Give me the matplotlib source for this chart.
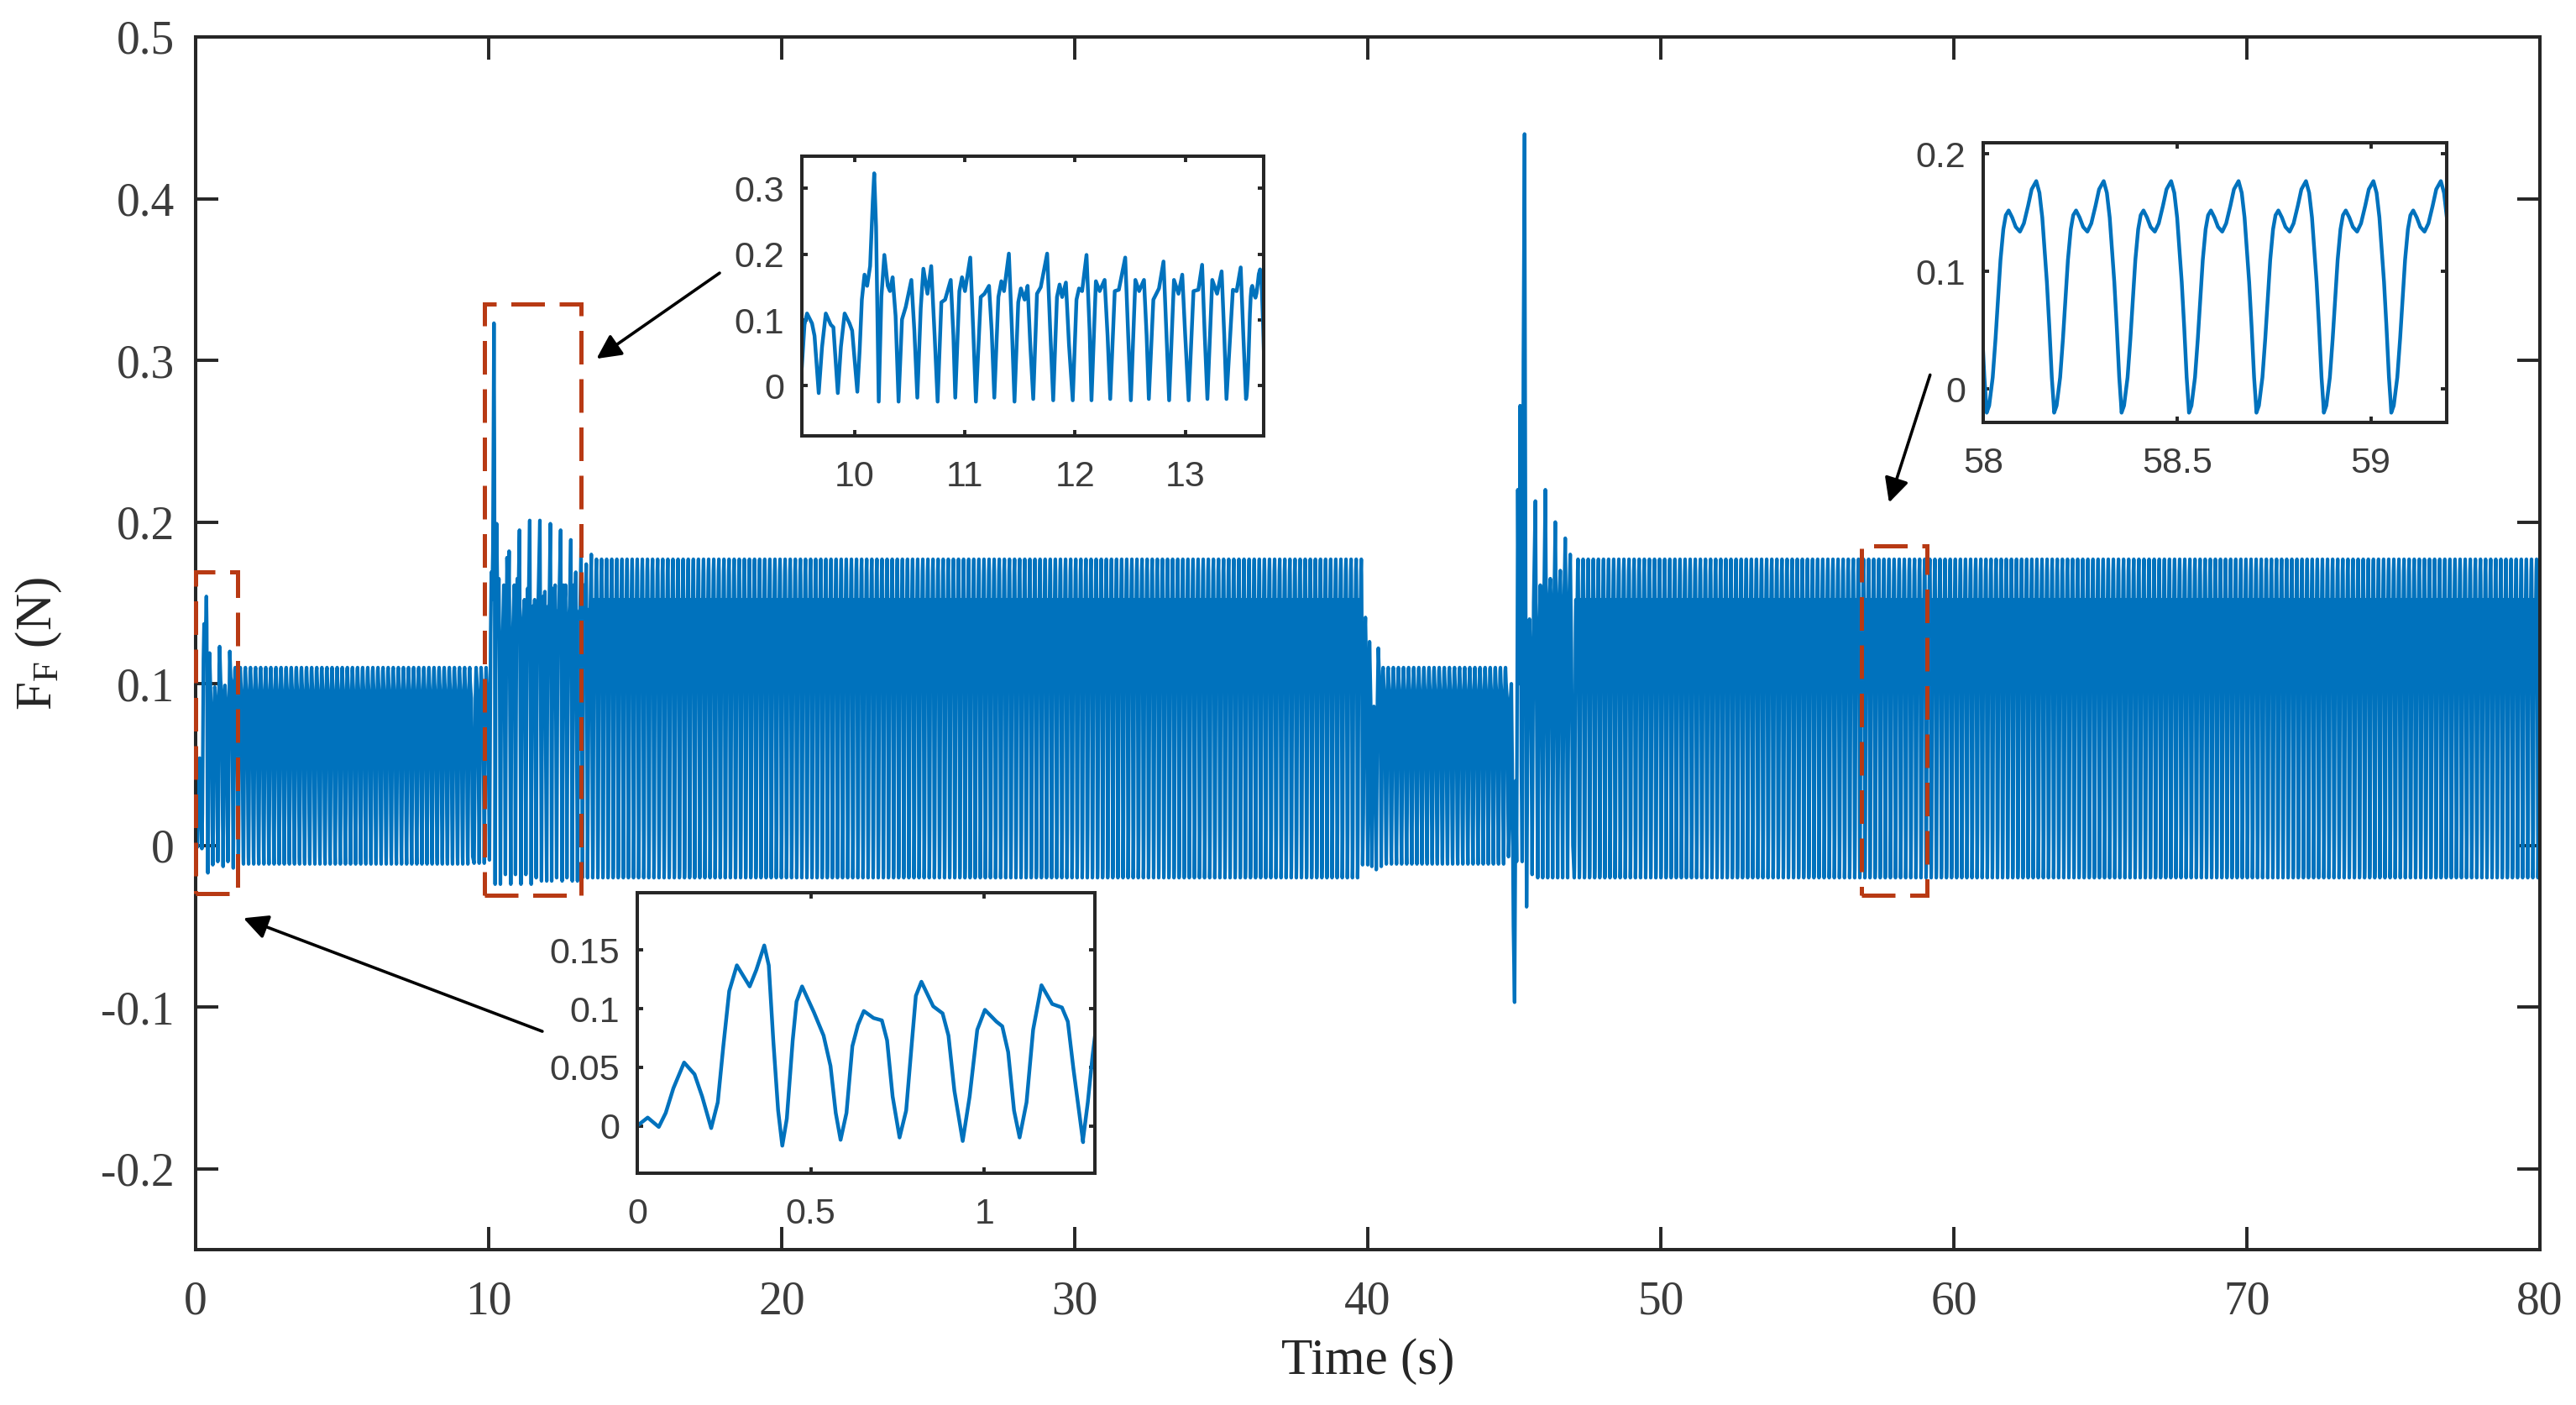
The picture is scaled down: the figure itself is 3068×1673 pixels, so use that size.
import numpy as np
import matplotlib
matplotlib.use('Agg')
import matplotlib.pyplot as plt
from matplotlib.patches import Rectangle

plt.rcParams['font.family'] = 'Liberation Serif'
plt.rcParams['axes.unicode_minus'] = False
plt.rcParams['mathtext.fontset'] = 'custom'
plt.rcParams['mathtext.rm'] = 'Liberation Serif'

line_color = '#0072BD'
box_color = '#B83A14'
text_color = '#3c3c3c'
axis_color = '#262626'

# start-up, 0 - 1.285 s
start_t = [0.0, 0.030, 0.062, 0.082, 0.104, 0.135, 0.165, 0.187, 0.213, 0.232, 0.248, 0.265,
           0.287, 0.324, 0.343, 0.366, 0.379, 0.392, 0.406, 0.418, 0.431, 0.448, 0.459, 0.475,
           0.509, 0.537, 0.557, 0.572, 0.586, 0.603, 0.620, 0.636, 0.653, 0.681, 0.705, 0.720,
           0.736, 0.756, 0.775, 0.792, 0.803, 0.819, 0.853, 0.880, 0.897, 0.914, 0.938, 0.958,
           0.980, 1.002, 1.035, 1.052, 1.069, 1.086, 1.102, 1.122, 1.141, 1.165, 1.196, 1.224,
           1.241, 1.257, 1.285]
start_y = [0.0, 0.007, -0.001, 0.011, 0.032, 0.054, 0.044, 0.025, -0.002, 0.020, 0.068, 0.115,
           0.137, 0.119, 0.133, 0.154, 0.137, 0.073, 0.013, -0.017, 0.006, 0.073, 0.106, 0.119,
           0.097, 0.077, 0.051, 0.011, -0.012, 0.011, 0.068, 0.086, 0.098, 0.092, 0.090, 0.073,
           0.025, -0.010, 0.013, 0.073, 0.111, 0.123, 0.102, 0.096, 0.077, 0.030, -0.013, 0.025,
           0.082, 0.099, 0.089, 0.085, 0.063, 0.013, -0.010, 0.020, 0.082, 0.120, 0.104, 0.101,
           0.089, 0.049, -0.014]

# one cycle of the low-load oscillation (s from a minimum, N)
low_t = [0.0, 0.0136, 0.027, 0.041, 0.054, 0.065, 0.082, 0.102, 0.119, 0.136, 0.153, 0.167]
low_y = [-0.0115, 0.020, 0.059, 0.093, 0.108, 0.110, 0.101, 0.095, 0.091, 0.067, 0.020, -0.007]

# one cycle of the high-load oscillation (read from the 58 - 59.2 s inset)
hi_t = [0.0, 0.0064, 0.0155, 0.0228, 0.0292, 0.0356, 0.0429, 0.0493, 0.0566, 0.0658, 0.0749,
        0.0858, 0.0959, 0.1068, 0.116, 0.1279, 0.1361, 0.1434, 0.1498, 0.1553, 0.1616, 0.168,
        0.1726]
hi_y = [-0.020, -0.014, 0.010, 0.043, 0.077, 0.110, 0.136, 0.148, 0.152, 0.146, 0.138, 0.134,
        0.141, 0.156, 0.170, 0.177, 0.167, 0.146, 0.117, 0.091, 0.053, 0.010, -0.012]
period = 0.174
hi_ref_min = 58.009

# load step at 10 s
jump_t = [9.503, 9.524, 9.548, 9.571, 9.616, 9.639, 9.677, 9.707, 9.741, 9.786, 9.810, 9.850,
          9.878, 9.912, 9.956, 9.980, 10.027, 10.048, 10.068, 10.092, 10.116, 10.143, 10.167,
          10.180, 10.197, 10.221, 10.245, 10.272, 10.303, 10.323, 10.347, 10.374, 10.401,
          10.432, 10.466, 10.517, 10.544, 10.571, 10.602, 10.626, 10.663, 10.697, 10.728,
          10.755, 10.789, 10.823, 10.874, 10.898, 10.915, 10.952, 10.976, 11.003, 11.051,
          11.078, 11.102, 11.146, 11.180, 11.221, 11.245, 11.269, 11.306, 11.333, 11.357,
          11.401, 11.429, 11.452, 11.486, 11.510, 11.544, 11.571, 11.595, 11.622, 11.656,
          11.690, 11.748, 11.776, 11.803, 11.837, 11.861, 11.884, 11.918, 11.946, 11.980,
          12.014, 12.037, 12.065, 12.105, 12.133, 12.150, 12.190, 12.224, 12.269, 12.296,
          12.320, 12.361, 12.398, 12.456, 12.483, 12.507, 12.548, 12.582, 12.626, 12.650,
          12.670, 12.711, 12.762, 12.803, 12.830, 12.854, 12.898, 12.939, 12.973, 13.000,
          13.031, 13.075, 13.119, 13.153, 13.177, 13.201, 13.245, 13.289, 13.330, 13.354,
          13.374, 13.432, 13.466, 13.503, 13.527, 13.551]
jump_y = [-0.011, 0.029, 0.093, 0.110, 0.095, 0.076, -0.011, 0.059, 0.110, 0.093, 0.089, -0.011,
          0.059, 0.110, 0.095, 0.084, -0.009, 0.054, 0.131, 0.169, 0.152, 0.182, 0.280,
          0.323, 0.242, -0.024, 0.135, 0.199, 0.152, 0.144, 0.165, 0.106, -0.024,
          0.101, 0.120, 0.161, 0.084, -0.018, 0.118, 0.178, 0.140, 0.182, 0.076,
          -0.024, 0.127, 0.131, 0.161, 0.076, -0.018, 0.144, 0.165, 0.144, 0.195,
          0.084, -0.024, 0.135, 0.140, 0.152, 0.084, -0.018, 0.135, 0.159, 0.144,
          0.201, 0.084, -0.024, 0.127, 0.148, 0.131, 0.152, 0.063, -0.020, 0.140,
          0.150, 0.201, 0.084, -0.022, 0.135, 0.154, 0.135, 0.157, 0.063, -0.022,
          0.131, 0.148, 0.144, 0.199, 0.084, -0.022, 0.159, 0.144, 0.161, 0.076,
          -0.020, 0.144, 0.146, 0.195, 0.076, -0.022, 0.161, 0.144, 0.161, 0.076,
          -0.020, 0.131, 0.148, 0.189, 0.076, -0.022, 0.161, 0.140, 0.169, 0.076,
          -0.022, 0.144, 0.146, 0.184, 0.076, -0.020, 0.161, 0.140, 0.174, 0.076,
          -0.020, 0.146, 0.144, 0.180, 0.076, -0.018]

# load drop at 40 s
drop_t = [39.85, 39.88, 39.92, 39.96, 39.999, 40.03, 40.06, 40.10, 40.14, 40.18, 40.21, 40.25,
          40.29, 40.33, 40.36, 40.40, 40.43, 40.46]
drop_y = [0.02, 0.12, 0.141, 0.10, -0.012, 0.06, 0.126, 0.09, -0.013, 0.07, 0.086, 0.08,
          -0.015, 0.09, 0.122, 0.10, 0.08, -0.013]

# disturbance at 45 s
kick_t = [44.84, 44.87, 44.90, 44.93, 44.97, 45.01, 45.05, 45.08, 45.12, 45.16, 45.20, 45.24,
          45.27, 45.31, 45.35, 45.39, 45.42, 45.47, 45.52, 45.57, 45.61, 45.66, 45.72, 45.76,
          45.80, 45.85, 45.89, 45.93, 45.97, 46.02, 46.06, 46.10, 46.14, 46.19, 46.23, 46.27,
          46.31, 46.36, 46.40, 46.44, 46.48, 46.53, 46.57, 46.61, 46.65, 46.70, 46.74, 46.78,
          46.82, 46.87, 46.91, 46.95, 47.00]
kick_y = [0.02, 0.09, 0.10, 0.05, -0.05, -0.097, 0.04, -0.01, 0.22, 0.10, 0.272, 0.05,
          -0.01, 0.30, 0.44, 0.15, -0.038, 0.10, 0.14, 0.10, -0.018, 0.15, 0.213, 0.10,
          -0.02, 0.13, 0.161, 0.12, -0.02, 0.16, 0.22, 0.12, -0.02, 0.15, 0.165, 0.14,
          -0.02, 0.15, 0.20, 0.12, -0.02, 0.15, 0.17, 0.13, -0.02, 0.15, 0.19, 0.12,
          -0.02, 0.15, 0.18, 0.12, 0.0]

xticks = [0, 10, 20, 30, 40, 50, 60, 70, 80]
yticks = [-0.2, -0.1, 0, 0.1, 0.2, 0.3, 0.4, 0.5]

# zoom boxes (s, N) and arrows (tail -> head)
box_x0 = [0.0, 9.85, 56.84]
box_x1 = [1.42, 13.16, 59.08]
box_y0 = [-0.030, -0.031, -0.031]
box_y1 = [0.169, 0.335, 0.185]
arrow_tail = [(17.88, 0.354), (59.19, 0.291), (11.83, -0.115)]
arrow_head = [(13.68, 0.301), (57.79, 0.212), (1.63, -0.045)]


def tile(t_start, t_stop, wave_t, wave_y):
    ts, ys = [], []
    t = t_start
    while t + period <= t_stop:
        ts.extend(t + np.array(wave_t))
        ys.extend(wave_y)
        t += period
    return ts, ys


low1_t, low1_y = tile(1.285, 9.50, low_t, low_y)
hi1_t, hi1_y = tile(13.551, 39.84, hi_t, hi_y)
low2_t, low2_y = tile(40.46, 44.82, low_t, low_y)
k = np.ceil((47.02 - hi_ref_min) / period)
hi2_t, hi2_y = tile(hi_ref_min + k * period, 80.2, hi_t, hi_y)

t_all = np.concatenate([start_t, low1_t, jump_t, hi1_t, drop_t, low2_t, kick_t, hi2_t])
y_all = np.concatenate([start_y, low1_y, jump_y, hi1_y, drop_y, low2_y, kick_y, hi2_y])

W, H = 3068, 1673
fig = plt.figure(figsize=(W / 200, H / 200), dpi=200)

ax = fig.add_axes([233 / W, 1 - 1488 / H, (3025 - 233) / W, (1488 - 44) / H])
ax.plot(t_all, y_all, color=line_color, lw=1.5)
ax.set_xlim(0, 80)
ax.set_ylim(-0.25, 0.5)
ax.set_xticks(xticks)
ax.set_xticklabels([f'{v:g}' for v in xticks])
ax.set_yticks(yticks)
ax.set_yticklabels([f'{v:g}' for v in yticks])
ax.tick_params(direction='in', length=9.7, width=1.4, top=True, right=True,
               labelsize=20, color=axis_color, labelcolor=text_color, pad=9)
ax.tick_params(axis='x', pad=13)
for s in ax.spines.values():
    s.set_linewidth(1.45)
    s.set_color(axis_color)
ax.set_xlabel('Time (s)', fontsize=22, color=axis_color, labelpad=6)
ax.set_ylabel(r'$\mathregular{F_F}$ (N)', fontsize=22, color=axis_color, labelpad=16)

for x0, x1, y0, y1 in zip(box_x0, box_x1, box_y0, box_y1):
    ax.add_patch(Rectangle((x0, y0), x1 - x0, y1 - y0, fill=False, ec=box_color,
                           lw=1.8, ls=(0, (8, 3.5)), clip_on=False, zorder=4))
for tail, head in zip(arrow_tail, arrow_head):
    ax.annotate('', xy=head, xytext=tail,
                arrowprops=dict(arrowstyle='-|>', color='k', lw=1.3, mutation_scale=22,
                                shrinkA=0, shrinkB=0), zorder=5)


def inset(rect, xlim, ylim, xt, yt):
    a = fig.add_axes(rect)
    a.plot(t_all, y_all, color=line_color, lw=1.6)
    a.set_xlim(*xlim)
    a.set_ylim(*ylim)
    a.set_xticks(xt)
    a.set_xticklabels([f'{v:g}' for v in xt], family='Liberation Sans')
    a.set_yticks(yt)
    a.set_yticklabels([f'{v:g}' for v in yt], family='Liberation Sans')
    a.tick_params(direction='in', length=2.5, width=1.4, top=True, right=True,
                  labelsize=15.5, color=axis_color, labelcolor=text_color, pad=7.5)
    a.tick_params(axis='x', pad=10.5)
    for s in a.spines.values():
        s.set_linewidth(1.45)
        s.set_color(axis_color)
    return a


inset([955 / W, 1 - 519 / H, 550 / W, 333 / H], (9.524, 13.711), (-0.076, 0.349),
      [10, 11, 12, 13], [0, 0.1, 0.2, 0.3])
inset([2362 / W, 1 - 503 / H, 552 / W, 333 / H], (58, 59.196), (-0.0283, 0.2096),
      [58, 58.5, 59], [0, 0.1, 0.2])
inset([759 / W, 1 - 1397 / H, 545 / W, 334 / H], (0, 1.319), (-0.0405, 0.199),
      [0, 0.5, 1], [0, 0.05, 0.1, 0.15])

fig.savefig('out.png', dpi=200)
